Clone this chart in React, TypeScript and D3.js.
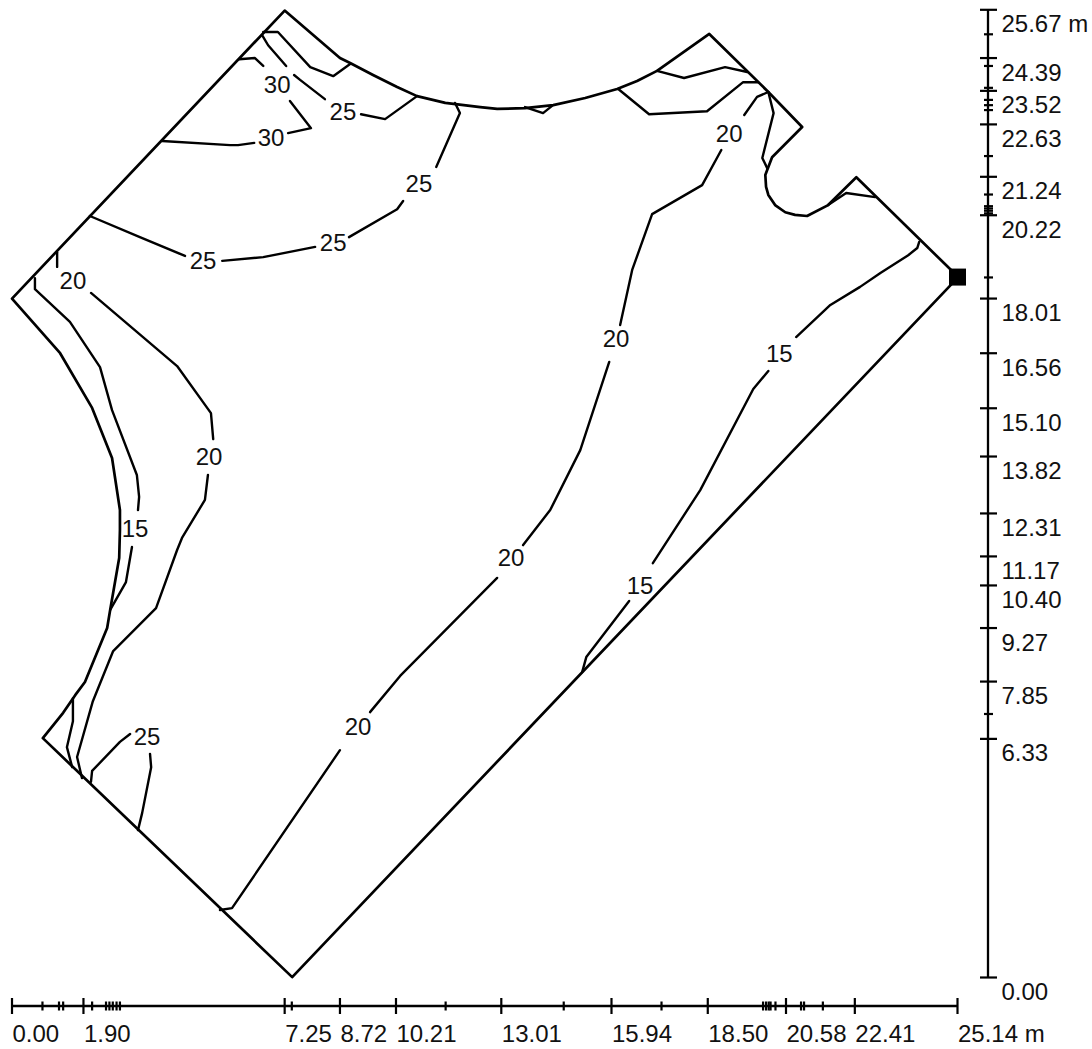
import React from "react";
import * as d3 from "d3";

type P = [number, number];

const xMajor = [0, 1.9, 7.25, 8.72, 10.21, 13.01, 15.94, 18.5, 20.58, 22.41, 25.14];
const xMinor = [0.81, 1.25, 1.36, 2.13, 2.5, 2.59, 2.68, 2.78, 2.87, 7.44, 11.53, 14.67, 17.27, 19.97, 20.05, 20.12, 20.17, 20.3, 20.98, 21.06, 21.56];
const xLabels = ["0.00", "1.90", "7.25", "8.72", "10.21", "13.01", "15.94", "18.50", "20.58", "22.41", "25.14 m"];

const yMajor = [0, 6.33, 7.85, 9.27, 10.4, 11.17, 12.31, 13.82, 15.1, 16.56, 18.01, 20.22, 21.24, 22.63, 23.52, 24.39, 25.67];
const yMinor = [6.99, 18.57, 20.27, 20.34, 20.4, 20.46, 20.77, 21.79, 23.01, 23.14, 23.28, 23.6, 24.18, 25.02];
const yLabels = ["0.00", "6.33", "7.85", "9.27", "10.40", "11.17", "12.31", "13.82", "15.10", "16.56", "18.01", "20.22", "21.24", "22.63", "23.52", "24.39", "25.67 m"];

const boundary: P[] = [
  [0, 18.01], [7.25, 25.65], [8.72, 24.39], [8.99, 24.26], [9.6, 23.94], [10.24, 23.62], [10.77, 23.38], [11.52, 23.2],
  [12.45, 23.09], [12.9, 23.04], [13.64, 23.06], [14.39, 23.14], [15.24, 23.33], [16.09, 23.57], [16.62, 23.78], [17.15, 24.05], [18.54, 25.03], [20.11, 23.49],
  [21.01, 22.56], [20.21, 21.76], [20.08, 21.42], [20.03, 21.29], [20.05, 20.97], [20.11, 20.76], [20.29, 20.49], [20.56, 20.3], [20.82, 20.23], [21.14, 20.2],
  [21.7, 20.49], [22.45, 21.23], [25.16, 18.58], [7.45, 0.01], [0.82, 6.35], [1.36, 7.02], [1.68, 7.49],
  [1.94, 7.84], [2.53, 9.27], [2.61, 9.75], [2.85, 11.13], [2.87, 11.87], [2.87, 12.4], [2.66, 13.78],
  [2.13, 15.11], [1.28, 16.56],
];

const contourSegments: P[][] = [
  [[6.68, 25.08], [7.07, 25.08], [7.93, 24.15], [8.54, 23.91], [8.99, 24.23]],
  [[6.65, 25.0], [6.81, 24.73], [7.29, 24.18]],
  [[7.5, 23.94], [7.66, 23.81], [8.32, 23.3]],
  [[9.28, 22.9], [9.92, 22.77], [10.77, 23.38]],
  [[6.04, 24.36], [6.46, 24.39], [6.68, 24.18]],
  [[7.39, 23.25], [7.95, 22.53], [7.34, 22.4]],
  [[6.44, 22.14], [6.01, 22.08], [5.8, 22.08], [3.99, 22.19]],
  [[2.07, 20.2], [3.4, 19.64], [4.6, 19.14]],
  [[5.59, 19.01], [6.68, 19.11], [8.06, 19.38]],
  [[8.96, 19.64], [10.24, 20.38], [10.4, 20.6]],
  [[11.28, 21.5], [11.91, 22.93], [11.78, 23.2]],
  [[13.64, 23.09], [14.12, 22.93], [14.36, 23.12]],
  [[16.12, 23.57], [16.94, 22.9], [18.48, 22.98], [19.44, 23.75], [19.84, 23.75]],
  [[17.15, 24.05], [17.87, 23.86], [18.96, 24.15], [19.55, 24.02]],
  [[20.11, 23.49], [19.81, 23.36], [19.47, 22.88]],
  [[18.86, 21.95], [18.35, 21.02], [17.02, 20.25], [16.49, 18.77], [16.17, 17.31]],
  [[15.88, 16.33], [15.11, 13.99], [14.31, 12.4], [13.59, 11.47]],
  [[12.9, 10.6], [10.32, 8.0], [9.52, 7.04]],
  [[8.72, 6.03], [5.85, 1.84], [5.53, 1.79]],
  [[20.11, 23.49], [20.25, 22.93], [19.95, 21.74], [20.08, 21.47]],
  [[21.7, 20.49], [22.18, 20.81], [22.95, 20.7]],
  [[24.12, 19.51], [24.07, 19.35], [23.83, 19.16], [23.09, 18.69], [22.55, 18.32], [21.76, 17.84], [20.85, 16.99]],
  [[20.11, 16.09], [19.71, 15.61], [18.3, 12.93], [17.04, 10.99]],
  [[16.41, 9.99], [15.27, 8.5], [15.16, 8.1]],
  [[1.2, 19.24], [1.2, 18.85]],
  [[2.1, 18.16], [4.39, 16.22], [5.29, 14.97], [5.35, 14.28]],
  [[5.21, 13.33], [5.13, 12.67], [4.52, 11.66], [4.39, 11.34], [3.83, 9.8], [2.69, 8.66], [2.15, 7.33], [1.73, 5.85], [1.86, 5.29]],
  [[0.61, 18.55], [0.61, 18.26], [1.54, 17.39], [2.34, 16.19], [2.66, 15.05], [3.32, 13.33], [3.38, 12.75], [3.35, 12.4]],
  [[3.19, 11.42], [3.03, 10.49], [2.61, 9.75]],
  [[1.62, 7.41], [1.62, 6.8], [1.46, 6.11], [1.6, 5.58]],
  [[2.1, 5.19], [2.13, 5.48], [2.87, 6.25], [3.14, 6.46]],
  [[3.67, 5.93], [3.7, 5.58], [3.46, 4.36], [3.35, 3.91]],
];

const labelValues = [30, 30, 25, 25, 25, 25, 20, 20, 20, 15, 20, 15, 20, 15, 20, 25];
const labelPoints: P[] = [
  [7.05, 23.7], [6.89, 22.27], [8.8, 22.96], [10.82, 21.05], [8.54, 19.51], [5.08, 19.01], [19.07, 22.4], [1.62, 18.5],
  [16.06, 16.94], [20.4, 16.54], [5.24, 13.81], [3.27, 11.92], [13.27, 11.15], [16.7, 10.41], [9.2, 6.67], [3.59, 6.38],
];

const station: P = [25.14, 18.58];

const W = 1092;
const H = 1049;
const x = d3.scaleLinear().domain([0, 25.14]).range([12, 957.5]);
const y = d3.scaleLinear().domain([0, 25.67]).range([977.5, 9.8]);
const line = d3.line<P>().x((d) => x(d[0])).y((d) => y(d[1]));

const FONT = "'Liberation Sans', Arial, sans-serif";
const FS = 24;
const AXIS_Y = 1006;
const AXIS_X = 988;

export default function App() {
  return (
    <svg
      width={W}
      height={H}
      viewBox={`0 0 ${W} ${H}`}
      style={{ position: "absolute", left: 0, top: 0, display: "block", background: "#fff" }}
      fontFamily={FONT}
    >
      <path d={(line(boundary) ?? "") + "Z"} fill="none" stroke="#000" strokeWidth={2.7} strokeLinejoin="round" />
      {contourSegments.map((s, i) => (
        <path key={i} d={line(s) ?? ""} fill="none" stroke="#000" strokeWidth={2.4} strokeLinejoin="round" strokeLinecap="round" />
      ))}
      {labelPoints.map((p, i) => (
        <text key={i} x={x(p[0])} y={y(p[1])} textAnchor="middle" dominantBaseline="central" fontSize={FS} fill="#111">
          {labelValues[i]}
        </text>
      ))}
      <rect x={x(station[0]) - 8.5} y={y(station[1]) - 8.5} width={17} height={17} fill="#000" />

      <line x1={x(0)} x2={x(25.14)} y1={AXIS_Y} y2={AXIS_Y} stroke="#000" strokeWidth={2.3} />
      {xMajor.map((v, i) => (
        <g key={i}>
          <line x1={x(v)} x2={x(v)} y1={AXIS_Y - 8} y2={AXIS_Y + 8} stroke="#000" strokeWidth={2.2} />
          <text x={x(v) + 0.5} y={AXIS_Y + 27} dominantBaseline="central" fontSize={FS} fill="#111">
            {xLabels[i]}
          </text>
        </g>
      ))}
      {xMinor.map((v, i) => (
        <line key={i} x1={x(v)} x2={x(v)} y1={AXIS_Y - 4.5} y2={AXIS_Y + 4.5} stroke="#000" strokeWidth={2.2} />
      ))}

      <line x1={AXIS_X} x2={AXIS_X} y1={y(25.67)} y2={y(0)} stroke="#000" strokeWidth={2.3} />
      {yMajor.map((v, i) => (
        <g key={i}>
          <line x1={AXIS_X - 8} x2={AXIS_X + 9} y1={y(v)} y2={y(v)} stroke="#000" strokeWidth={2.2} />
          <text x={AXIS_X + 13.5} y={y(v) + 14} dominantBaseline="central" fontSize={FS} fill="#111">
            {yLabels[i]}
          </text>
        </g>
      ))}
      {yMinor.map((v, i) => (
        <line key={i} x1={AXIS_X - 4} x2={AXIS_X + 5} y1={y(v)} y2={y(v)} stroke="#000" strokeWidth={2.2} />
      ))}
    </svg>
  );
}
